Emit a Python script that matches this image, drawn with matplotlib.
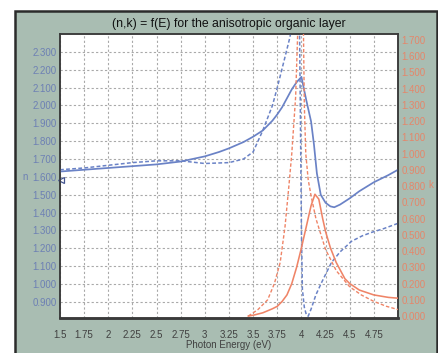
import matplotlib
matplotlib.use("Agg")
import matplotlib.pyplot as plt
from matplotlib.patches import Rectangle
import numpy as np

# ---------------- data ----------------
title = "(n,k) = f(E) for the anisotropic organic layer"
x_label = "Photon Energy (eV)"

x_ticks = [1.5, 1.75, 2, 2.25, 2.5, 2.75, 3, 3.25, 3.5, 3.75, 4, 4.25, 4.5, 4.75]
x_tick_labels = ["1.5", "1.75", "2", "2.25", "2.5", "2.75", "3", "3.25",
                 "3.5", "3.75", "4", "4.25", "4.5", "4.75"]
n_ticks = [0.9, 1.0, 1.1, 1.2, 1.3, 1.4, 1.5, 1.6, 1.7, 1.8, 1.9, 2.0, 2.1, 2.2, 2.3]
k_ticks = [0.0, 0.1, 0.2, 0.3, 0.4, 0.5, 0.6, 0.7, 0.8, 0.9, 1.0, 1.1, 1.2, 1.3,
           1.4, 1.5, 1.6, 1.7]

# n, solid
n1_E = [1.5, 1.75, 2.0, 2.25, 2.5, 2.75, 3.0, 3.15, 3.25, 3.4, 3.5, 3.6, 3.7,
        3.75, 3.8, 3.85, 3.9, 3.95, 4.0, 4.05, 4.1, 4.13, 4.16, 4.2, 4.25,
        4.3, 4.34, 4.4, 4.5, 4.6, 4.75, 4.9, 5.0]
n1 = [1.63, 1.64, 1.65, 1.66, 1.67, 1.686, 1.715, 1.74, 1.76, 1.795, 1.825,
      1.86, 1.915, 1.95, 1.99, 2.04, 2.09, 2.13, 2.16, 2.03, 1.91, 1.78, 1.62,
      1.5, 1.455, 1.435, 1.43, 1.445, 1.48, 1.52, 1.57, 1.61, 1.64]

# n, dashed
n2_E = [1.5, 1.75, 2.0, 2.25, 2.5, 2.75, 3.0, 3.25, 3.4, 3.5, 3.6, 3.7, 3.75,
        3.82, 3.88, 3.92, 3.96, 3.98, 3.99, 4.0, 4.01, 4.03, 4.05, 4.07, 4.1,
        4.15, 4.21, 4.31, 4.4, 4.52, 4.63, 4.73, 4.85, 5.0]
n2 = [1.64, 1.65, 1.665, 1.68, 1.69, 1.69, 1.675, 1.68, 1.70, 1.74, 1.86, 2.0,
      2.1, 2.25, 2.38, 2.5, 2.7, 2.45, 1.9, 1.3, 0.97, 0.87, 0.83, 0.82, 0.86,
      0.94, 1.01, 1.12, 1.18, 1.24, 1.27, 1.29, 1.31, 1.34]

# k, solid
k1_E = [3.45, 3.5, 3.6, 3.7, 3.75, 3.8, 3.85, 3.9, 3.95, 4.0, 4.05, 4.1, 4.14,
        4.18, 4.22, 4.25, 4.3, 4.36, 4.45, 4.5, 4.6, 4.75, 4.9, 5.0]
k1 = [0.0, 0.005, 0.02, 0.045, 0.06, 0.09, 0.13, 0.2, 0.3, 0.42, 0.55, 0.68,
      0.75, 0.72, 0.6, 0.52, 0.42, 0.33, 0.23, 0.2, 0.16, 0.13, 0.115, 0.11]

# k, dashed
k2_E = [3.45, 3.55, 3.65, 3.72, 3.78, 3.83, 3.87, 3.9, 3.94, 3.97, 4.0, 4.02,
        4.03, 4.045, 4.07, 4.1, 4.15, 4.25, 4.36, 4.5, 4.62, 4.75, 4.88, 5.0]
k2 = [0.0, 0.04, 0.1, 0.2, 0.33, 0.55, 0.8, 1.0, 1.35, 1.9, 2.5, 1.8, 1.3,
      1.0, 0.84, 0.74, 0.6, 0.41, 0.28, 0.18, 0.13, 0.09, 0.06, 0.04]

marker_E = 1.515
marker_n = 1.585

# ---------------- style ----------------
W, H = 439, 353
BG = "#a9bdb2"
BLUE = "#6a82c6"
ORANGE = "#ef8467"
NCOL = "#6d80b4"
KCOL = "#e5866a"
GRID = "#a9a9a9"
SPINE = "#3a3a3a"
FONT = ["Liberation Sans", "DejaVu Sans"]
plt.rcParams["font.family"] = FONT

fig = plt.figure(figsize=(W / 100, H / 100), dpi=100)
fig.patch.set_facecolor("white")

# background panel (an axes placed behind everything)
bg = fig.add_axes([0, 0, 1, 1], zorder=-10)
bg.set_xlim(0, W)
bg.set_ylim(H, 0)
bg.axis("off")
bg.add_patch(Rectangle((15, 10.5), 437 - 15, H + 20, facecolor=BG,
                       edgecolor="#2b2b2b", linewidth=1.8))

left, right, top, bottom = 60, 398, 34, 318
ax = fig.add_axes([left / W, (H - bottom) / H, (right - left) / W, (bottom - top) / H])
ax.set_facecolor("white")
ax2 = ax.twinx()

ax.set_xlim(1.5, 5.0)
ax.set_ylim(0.81, 2.40)
ax2.set_ylim(-0.012, 1.737)

ax.grid(True, color=GRID, linestyle=(0, (2, 2)), linewidth=0.8)
ax.set_axisbelow(True)

ax.plot(n1_E, n1, color=BLUE, lw=1.25, zorder=3)
ax.plot(n2_E, n2, color=BLUE, lw=1.1, ls=(0, (2.5, 1.5)), zorder=3)
ax2.plot(k1_E, k1, color=ORANGE, lw=1.15, zorder=3)
ax2.plot(k2_E, k2, color=ORANGE, lw=1.0, ls=(0, (2.5, 1.5)), zorder=3)

ax.plot([marker_E], [marker_n], marker="<", ms=4, mfc="none", mec="#445590",
        mew=0.9, ls="none", zorder=4, clip_on=False)

ax.set_xticks(x_ticks)
ax.set_xticklabels(x_tick_labels)
ax.set_yticks(n_ticks)
ax.set_yticklabels([f"{v:.3f}" for v in n_ticks])
ax2.set_yticks(k_ticks)
ax2.set_yticklabels([f"{v:.3f}" for v in k_ticks])

ax.tick_params(axis="x", length=0, pad=8.5, labelsize=7, labelcolor="#404040")
ax.tick_params(axis="y", length=0, pad=2.5, labelsize=7, labelcolor=NCOL)
ax2.tick_params(axis="y", length=0, pad=2.5, labelsize=7, labelcolor=KCOL)

ax.set_xlabel(x_label, fontsize=7, color="#404040", labelpad=0.5)

for a in (ax, ax2):
    for s in a.spines.values():
        s.set_color(SPINE)
        s.set_linewidth(1.1)
    a.spines["bottom"].set_linewidth(1.8)

fig.text(25 / W, (H - 177) / H, "n", color=NCOL, fontsize=7, ha="center", va="center")
fig.text(431 / W, (H - 185) / H, "k", color=KCOL, fontsize=7, ha="center", va="center")
fig.text(229 / W, (H - 24.5) / H, title, color="#111111", fontsize=8.8,
         ha="center", va="center")

fig.savefig("out.png", dpi=100)
